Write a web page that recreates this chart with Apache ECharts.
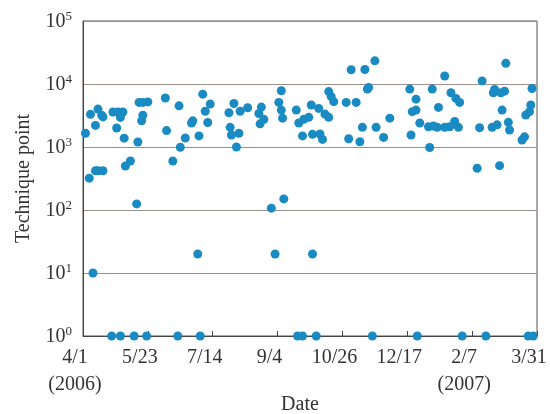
<!DOCTYPE html>
<html>
<head>
<meta charset="utf-8">
<script src="https://cdn.jsdelivr.net/npm/echarts@6/dist/echarts.min.js"></script>
<style>html,body{margin:0;padding:0;background:#fff}#c{width:550px;height:414px}</style>
</head>
<body>
<div id="c"></div>
<script>
// Days since 2006-04-01
const dayOffsets = [
  2, 6, 10, 12, 15, 16, 5, 10, 12, 16, 24, 28, 32, 30, 27, 33, 34, 38, 44, 43,
  45, 48, 52, 48, 47, 66, 67, 77, 72, 78, 82, 87, 88, 93, 96, 98, 100, 102,
  117, 121, 118, 119, 123, 125, 126, 132, 143, 141, 142, 145,
  159, 157, 159, 160, 171, 173, 177, 181, 183, 176, 184, 151, 161, 92, 154, 184, 8,
  189, 194, 197, 197, 199, 201, 190, 192, 211, 219, 215, 226, 234, 228, 229,
  213, 222, 224, 235, 241, 246, 262, 267, 264, 267, 270, 263, 278,
  280, 290, 285, 295, 299, 302, 277, 281, 284, 290, 294, 298, 301,
  318, 320, 316, 334, 328, 332, 329, 330, 335, 338, 339, 336, 341, 342,
  352, 354, 355, 358, 359, 360,
  23, 30, 41, 51, 76, 94, 172, 176, 187, 232, 268, 304, 323, 357, 361
];
const techniquePoints = [
  1650, 3300, 2200, 4000, 3200, 3000, 320, 420, 420, 420, 3600, 3600, 3600, 2950, 2000, 1380, 500, 600, 1200, 125,
  5100, 5100, 5200, 3200, 2600, 6000, 1820, 4500, 600, 990, 1390, 2400, 2600, 1500, 6900, 3700, 2450, 4800,
  3500, 4900, 2050, 1550, 1000, 1650, 3700, 4200, 4300, 3400, 2330, 2750,
  7800, 5100, 3850, 2870, 3850, 2400, 2750, 2960, 4650, 1500, 1590, 107, 150, 20, 20, 20, 10,
  4100, 3330, 2960, 7580, 6300, 5240, 1610, 1320, 5100, 5100, 16800, 17000, 23300, 8300, 8800,
  1350, 1210, 2050, 2050, 1420, 2870, 8300, 5740, 3640, 3850, 2400, 1550, 980,
  8300, 13400, 4250, 7260, 5900, 5100, 2100, 2150, 2050, 2050, 2100, 2550, 2050,
  2030, 11200, 460, 505, 2050, 2250, 7270, 8200, 7270, 7700, 21300, 3850, 2460, 1860,
  1290, 1450, 3220, 3640, 4650, 8500,
  1, 1, 1, 1, 1, 1, 1, 1, 1, 1, 1, 1, 1, 1, 1
];
const tickDays = [0, 52, 104, 156, 208, 260, 312, 364];
const tickLabels = ['4/1\n(2006)', '5/23', '7/14', '9/4', '10/26', '12/17', '2/7\n(2007)', '3/31'];
const yTickValues = [1, 10, 100, 1000, 10000, 100000];
const xTitle = 'Date';
const yTitle = 'Technique point';

const serif = '"Liberation Serif", "Times New Roman", serif';
const points = dayOffsets.map((d, i) => [d, techniquePoints[i]]);

const chart = echarts.init(document.getElementById('c'), null, {renderer: 'canvas'});
chart.setOption({
  animation: false,
  backgroundColor: '#fff',
  grid: {left: 83, right: 13, top: 21, bottom: 78, containLabel: false, outerBoundsMode: 'none',
         show: true, borderColor: '#555', borderWidth: 1, backgroundColor: 'transparent'},
  xAxis: {
    type: 'value', min: 0, max: 364, interval: 52,
    name: xTitle, nameLocation: 'middle', nameGap: 59, nameMoveOverlap: false,
    nameTextStyle: {fontFamily: serif, fontSize: 20, color: '#333', padding: [0, 20, 0, 0]},
    axisLine: {show: true, lineStyle: {color: '#444', width: 1}},
    axisTick: {show: true, inside: true, length: 5, lineStyle: {color: '#444'}},
    splitLine: {show: false},
    axisLabel: {
      fontFamily: serif, fontSize: 20, color: '#333', lineHeight: 27, margin: 8,
      padding: [0, 16, 0, 0], hideOverlap: false,
      formatter: v => { const i = tickDays.indexOf(Math.round(v)); return i >= 0 ? tickLabels[i] : ''; }
    }
  },
  yAxis: {
    type: 'log', logBase: 10, min: 1, max: 100000,
    name: yTitle, nameLocation: 'middle', nameGap: 49, nameRotate: 90, nameMoveOverlap: false,
    nameTextStyle: {fontFamily: serif, fontSize: 20, color: '#333'},
    axisLine: {show: true, lineStyle: {color: '#444', width: 1}},
    axisTick: {show: false},
    splitLine: {show: true, lineStyle: {color: '#9b908b', width: 1}},
    axisLabel: {
      margin: 11,
      formatter: v => {
        const e = Math.round(Math.log10(v));
        return yTickValues.indexOf(v) >= 0 || Math.abs(Math.pow(10, e) - v) < 1e-6 ? '{b|10}{s|' + e + '}' : '';
      },
      rich: {
        b: {fontFamily: serif, fontSize: 20, color: '#333', verticalAlign: 'bottom', lineHeight: 22},
        s: {fontFamily: serif, fontSize: 13, color: '#333', verticalAlign: 'top', lineHeight: 22, padding: [0, 0, 8, 0]}
      }
    }
  },
  series: [{
    type: 'scatter',
    data: points,
    symbolSize: 9,
    clip: false,
    itemStyle: {color: '#1a8bc2', opacity: 1}
  }]
});
</script>
</body>
</html>
